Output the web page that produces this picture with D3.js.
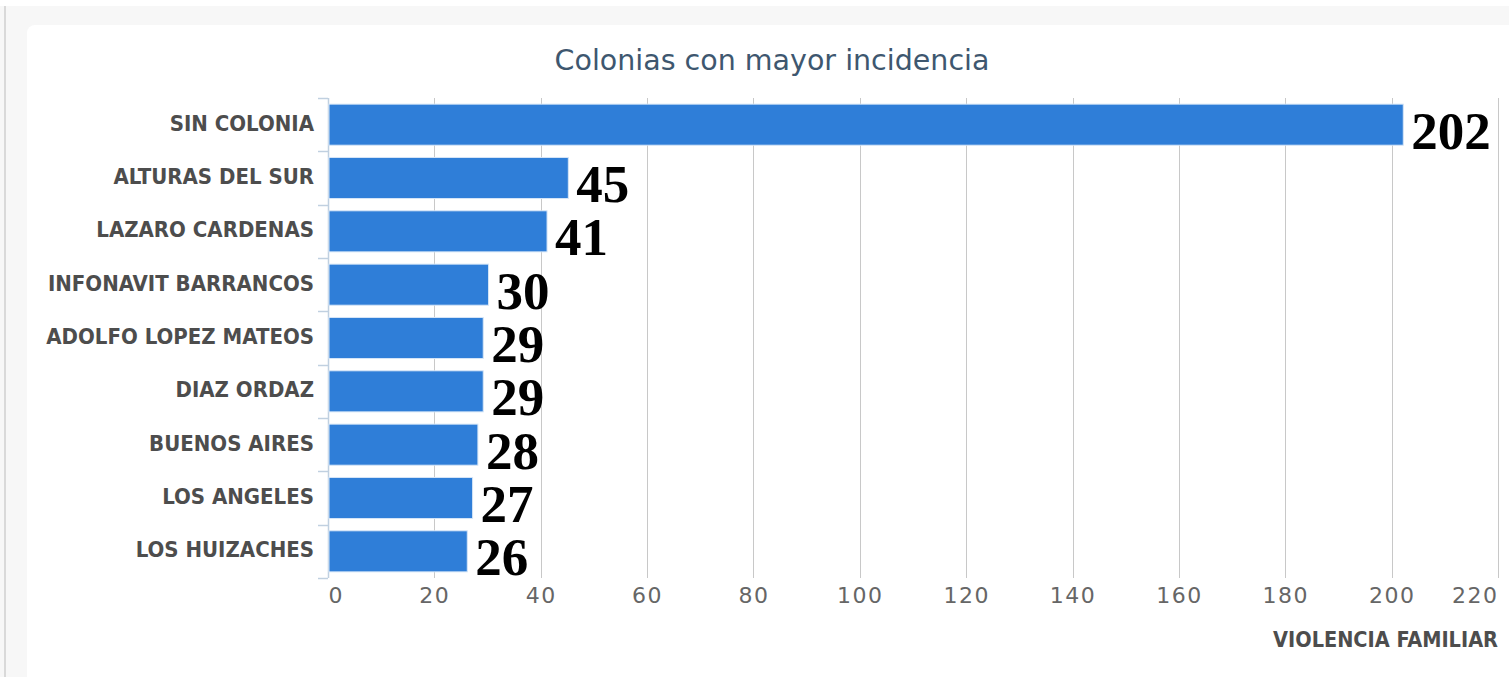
<!DOCTYPE html>
<html>
<head>
<meta charset="utf-8">
<script src="https://cdnjs.cloudflare.com/ajax/libs/d3/7.8.5/d3.min.js"></script>
<style>
  html, body { margin: 0; padding: 0; background: #f7f7f7; }
  svg { display: block; }
</style>
</head>
<body>
<svg id="chart" width="1509" height="677"></svg>
<script>
// Colonias y número de reportes de violencia familiar
const categories = [
  "SIN COLONIA", "ALTURAS DEL SUR", "LAZARO CARDENAS", "INFONAVIT BARRANCOS",
  "ADOLFO LOPEZ MATEOS", "DIAZ ORDAZ", "BUENOS AIRES", "LOS ANGELES", "LOS HUIZACHES"
];
const values = [202, 45, 41, 30, 29, 29, 28, 27, 26];
const xTicks = [0, 20, 40, 60, 80, 100, 120, 140, 160, 180, 200, 220];
const titleText = "Colonias con mayor incidencia";
const axisTitle = "VIOLENCIA FAMILIAR";

const svg = d3.select("#chart");
const W = 1509, H = 677;
const plot = { left: 328, right: 1498, top: 98, bottom: 578 };

// page background, left rule and white card
svg.append("rect").attr("x", 0).attr("y", 0).attr("width", W).attr("height", 6).attr("fill", "#ffffff");
svg.append("rect").attr("x", 4).attr("y", 6).attr("width", 2).attr("height", H - 6).attr("fill", "#d9d9d9");
svg.append("rect").attr("x", 27).attr("y", 25).attr("width", W).attr("height", H)
  .attr("rx", 8).attr("fill", "#ffffff");

const x = d3.scaleLinear().domain([0, 220]).range([plot.left, plot.right]);
const y = d3.scaleBand().domain(categories).range([plot.top, plot.bottom])
  .paddingInner(0.23).paddingOuter(0.115);

// vertical grid lines
svg.append("g").selectAll("line").data(xTicks.filter(d => d > 0)).join("line")
  .attr("x1", d => Math.round(x(d)) + 0.5).attr("x2", d => Math.round(x(d)) + 0.5)
  .attr("y1", plot.top).attr("y2", plot.bottom)
  .attr("stroke", "#c8c8c8").attr("stroke-width", 1);

// value axis labels; first and last kept inside the plot edges
const xAxis = d3.axisBottom(x).tickValues(xTicks).tickSize(0).tickPadding(0);
const gx = svg.append("g").attr("transform", `translate(0,${plot.bottom})`).call(xAxis);
gx.select(".domain").remove();
gx.selectAll("text")
  .attr("dy", null).attr("y", 25)
  .attr("font-family", "'DejaVu Sans', sans-serif").attr("font-size", 22)
  .attr("letter-spacing", "1.5px")
  .attr("fill", "#666666")
  .attr("text-anchor", d => d === xTicks[0] ? "start" : d === xTicks[xTicks.length - 1] ? "end" : "middle");

// category axis line and ticks between bands
const step = y.step();
svg.append("line")
  .attr("x1", plot.left + 0.5).attr("x2", plot.left + 0.5)
  .attr("y1", plot.top).attr("y2", plot.bottom)
  .attr("stroke", "#c0d0e0").attr("stroke-width", 1.5);
svg.append("g").selectAll("line").data(d3.range(categories.length + 1)).join("line")
  .attr("x1", plot.left - 10).attr("x2", plot.left)
  .attr("y1", i => Math.round(plot.top + i * step) + 0.5)
  .attr("y2", i => Math.round(plot.top + i * step) + 0.5)
  .attr("stroke", "#c0d0e0").attr("stroke-width", 1.5);

// category labels
const yAxis = d3.axisLeft(y).tickSize(0).tickPadding(14);
const gy = svg.append("g").attr("transform", `translate(${plot.left},0)`).call(yAxis);
gy.select(".domain").remove();
gy.selectAll("text")
  .attr("dy", "0.27em")
  .attr("font-family", "'DejaVu Sans Condensed', 'DejaVu Sans', sans-serif")
  .attr("font-weight", "bold").attr("font-size", 22)
  .attr("fill", "#4d4d4d");

// bars
svg.append("g").selectAll("rect").data(values).join("rect")
  .attr("x", x(0) + 1)
  .attr("y", (d, i) => y(categories[i]))
  .attr("width", d => x(d) - x(0))
  .attr("height", y.bandwidth())
  .attr("fill", "#2f7ed8")
  .attr("stroke", "#d6e6f7").attr("stroke-width", 1);

// value labels
svg.append("g").selectAll("text").data(values).join("text")
  .attr("x", d => x(d) + 9)
  .attr("y", (d, i) => y(categories[i]) + y.bandwidth() / 2 + 24)
  .attr("font-family", "'Liberation Serif', 'Times New Roman', serif")
  .attr("font-weight", "bold").attr("font-size", 53)
  .attr("fill", "#000000")
  .text(d => d);

// title
svg.append("text")
  .attr("x", 772).attr("y", 70).attr("text-anchor", "middle")
  .attr("font-family", "'DejaVu Sans', sans-serif").attr("font-size", 28.5)
  .attr("fill", "#3e576f")
  .text(titleText);

// value axis title
svg.append("text")
  .attr("x", plot.right).attr("y", 647).attr("text-anchor", "end")
  .attr("font-family", "'DejaVu Sans Condensed', 'DejaVu Sans', sans-serif")
  .attr("font-weight", "bold").attr("font-size", 21.5)
  .attr("fill", "#4d4d4d")
  .text(axisTitle);
</script>
</body>
</html>
